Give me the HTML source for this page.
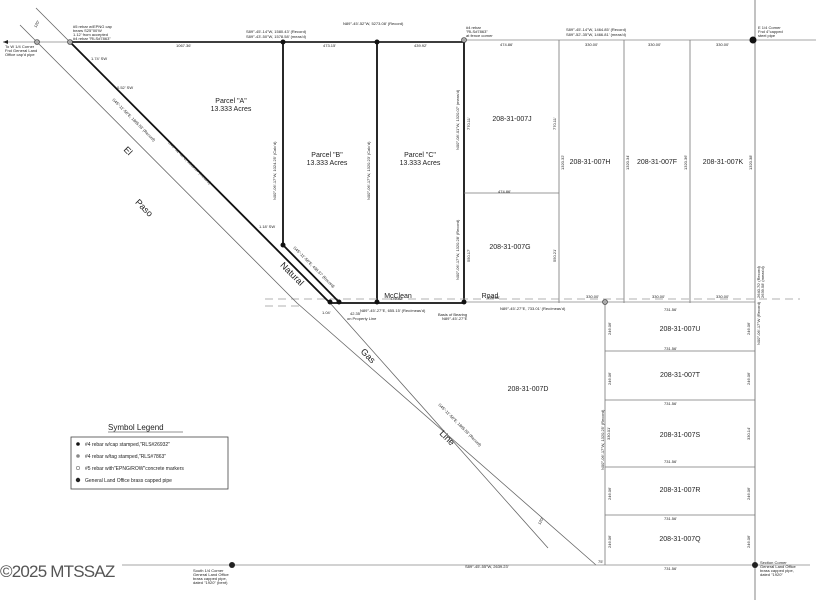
<!DOCTYPE html>
<html><head><meta charset="utf-8"><style>
html,body{margin:0;padding:0;background:#fff;}
svg{display:block;font-family:"Liberation Sans",sans-serif;}
.s{font-size:4px;fill:#222;}
.m{font-size:7px;fill:#222;}
.l{font-size:9px;fill:#222;}
</style></head><body>
<svg width="816" height="600" viewBox="0 0 816 600" xmlns="http://www.w3.org/2000/svg">
<rect width="816" height="600" fill="#fff"/>
<line x1="3" y1="42" x2="70" y2="42" stroke="#888" stroke-width="0.8"/>
<polygon points="3,42 8,40 8,44" fill="#222"/>
<line x1="70" y1="42" x2="464" y2="42" stroke="#222" stroke-width="1.8"/>
<line x1="464" y1="40" x2="816" y2="40" stroke="#888" stroke-width="0.8"/>
<line x1="283" y1="42" x2="283" y2="245" stroke="#111" stroke-width="1.8"/>
<line x1="377" y1="42" x2="377" y2="303" stroke="#111" stroke-width="1.8"/>
<line x1="464" y1="42" x2="464" y2="303" stroke="#111" stroke-width="1.8"/>
<line x1="559" y1="40" x2="559" y2="303" stroke="#777" stroke-width="0.8"/>
<line x1="624" y1="40" x2="624" y2="303" stroke="#777" stroke-width="0.8"/>
<line x1="690" y1="40" x2="690" y2="303" stroke="#777" stroke-width="0.8"/>
<line x1="755" y1="0" x2="755" y2="600" stroke="#666" stroke-width="0.8"/>
<line x1="464" y1="193" x2="559" y2="193" stroke="#777" stroke-width="0.8"/>
<line x1="265" y1="299" x2="800" y2="299" stroke="#999" stroke-width="0.8" stroke-dasharray="8,5"/>
<line x1="265" y1="306" x2="300" y2="306" stroke="#999" stroke-width="0.8" stroke-dasharray="8,5"/>
<line x1="330" y1="303" x2="464" y2="303" stroke="#111" stroke-width="1.8"/>
<line x1="464" y1="302" x2="755" y2="302" stroke="#888" stroke-width="0.8"/>
<polyline points="36,8 330,303 548,548" fill="none" stroke="#666" stroke-width="0.8"/>
<polyline points="20,25 297,303 596,565" fill="none" stroke="#666" stroke-width="0.8"/>
<line x1="70" y1="42" x2="330" y2="303" stroke="#111" stroke-width="1.8"/>
<line x1="283" y1="245" x2="339" y2="302" stroke="#111" stroke-width="1.8"/>
<line x1="605" y1="302" x2="605" y2="565" stroke="#777" stroke-width="0.8"/>
<g stroke="#777" stroke-width="0.8">
<line x1="605" y1="351" x2="755" y2="351"/>
<line x1="605" y1="400" x2="755" y2="400"/>
<line x1="605" y1="467" x2="755" y2="467"/>
<line x1="605" y1="515" x2="755" y2="515"/>
</g>
<line x1="122" y1="565" x2="810" y2="565" stroke="#888" stroke-width="0.8"/>
<g fill="#111">
<circle cx="283" cy="42" r="2.5"/><circle cx="377" cy="42" r="2.5"/><circle cx="753" cy="40" r="3.5"/>
<circle cx="283" cy="245" r="2.5"/><circle cx="330" cy="302" r="2.5"/><circle cx="339" cy="302" r="2.5"/>
<circle cx="377" cy="302" r="2.5"/><circle cx="464" cy="302" r="2.5"/>
</g>
<circle cx="70" cy="42" r="2.5" fill="#aaa" stroke="#333" stroke-width="0.6"/>
<circle cx="37" cy="42" r="2.5" fill="#aaa" stroke="#333" stroke-width="0.6"/>
<circle cx="464" cy="40" r="2.5" fill="#aaa" stroke="#333" stroke-width="0.6"/>
<circle cx="605" cy="302" r="2.5" fill="#aaa" stroke="#333" stroke-width="0.6"/>
<circle cx="232" cy="565" r="3" fill="#222"/><circle cx="755" cy="565" r="3" fill="#222"/>
<text class="s" x="73" y="28">#5 rebar w/EPNG cap</text>
<text class="s" x="73" y="32">bears S25°00'W</text>
<text class="s" x="73" y="36">1.12' from accepted</text>
<text class="s" x="73" y="40">#4 rebar "RLS#7863"</text>
<text class="s" x="5" y="48">To W 1/4 Corner</text>
<text class="s" x="5" y="52">Fnd General Land</text>
<text class="s" x="5" y="56">Office cap'd pipe</text>
<text class="s" x="176" y="47">1067.36'</text>
<text class="s" x="246" y="33">S89°-45'-14"W, 1580.43' (Record)</text>
<text class="s" x="246" y="38">S89°-43'-50"W, 1578.58' (meas'd)</text>
<text class="s" x="323" y="47">473.15'</text>
<text class="s" x="414" y="47">439.92'</text>
<text class="s" x="343" y="25">N89°-45'-52"W, 5273.08' (Record)</text>
<text class="s" x="466" y="29">#4 rebar</text>
<text class="s" x="466" y="33">"RLS#7863"</text>
<text class="s" x="466" y="37">at fence corner</text>
<text class="s" x="500" y="46">474.86'</text>
<text class="s" x="566" y="31">S89°-45'-14"W, 1464.85' (Record)</text>
<text class="s" x="566" y="36">S89°-52'-35"W, 1466.81' (meas'd)</text>
<text class="s" x="585" y="46">330.00'</text>
<text class="s" x="648" y="46">330.00'</text>
<text class="s" x="716" y="46">330.00'</text>
<text class="s" x="758" y="29">E 1/4 Corner</text>
<text class="s" x="758" y="33">Fnd 4"capped</text>
<text class="s" x="758" y="37">steel pipe</text>
<text class="s" x="498" y="193">474.86'</text>
<text class="s" x="390" y="300">439.92'</text>
<text class="s" x="487" y="299">474.86'</text>
<text class="s" x="586" y="298">330.00'</text>
<text class="s" x="652" y="298">330.00'</text>
<text class="s" x="716" y="298">330.00'</text>
<text class="s" x="360" y="312">N89°-45'-27"E, 655.15' (Rec/meas'd)</text>
<text class="s" x="500" y="310">N89°-45'-27"E, 733.01' (Rec/meas'd)</text>
<text class="s" x="438" y="316">Basis of Bearing</text>
<text class="s" x="442" y="320">N89°-45'-27"E</text>
<text class="s" x="322" y="314">1.04'</text>
<text class="s" x="350" y="315">42.35'</text>
<text class="s" x="347" y="320">on Property Line</text>
<text class="s" x="664" y="311">731.56'</text>
<text class="s" x="664" y="350">731.56'</text>
<text class="s" x="664" y="405">731.56'</text>
<text class="s" x="664" y="463">731.56'</text>
<text class="s" x="664" y="520">731.56'</text>
<text class="s" x="664" y="570">731.56'</text>
<text class="s" x="465" y="568">S89°-45'-55"W, 2639.23'</text>
<text class="s" x="598" y="563">75'</text>
<text class="s" x="193" y="572">South 1/4 Corner</text>
<text class="s" x="193" y="576">General Land Office</text>
<text class="s" x="193" y="580">brass capped pipe,</text>
<text class="s" x="193" y="584">dated "1920" (bent)</text>
<text class="s" x="760" y="564">Section Corner</text>
<text class="s" x="760" y="568">General Land Office</text>
<text class="s" x="760" y="572">brass capped pipe,</text>
<text class="s" x="760" y="576">dated "1920"</text>
<g class="s">
<text transform="translate(276,200) rotate(-90)">N00°-06'-17"W, 1024.25' (Calc'd)</text>
<text transform="translate(370,200) rotate(-90)">N00°-06'-17"W, 1320.23' (Calc'd)</text>
<text transform="translate(459,150) rotate(-90)">N00°-08'-01"W, 1320.07' (meas'd)</text>
<text transform="translate(459,280) rotate(-90)">N00°-06'-17"W, 1320.28' (Record)</text>
<text transform="translate(470,130) rotate(-90)">770.11'</text>
<text transform="translate(470,262) rotate(-90)">550.17'</text>
<text transform="translate(556,130) rotate(-90)">770.11'</text>
<text transform="translate(556,262) rotate(-90)">550.21'</text>
<text transform="translate(564,170) rotate(-90)">1320.32'</text>
<text transform="translate(629,170) rotate(-90)">1320.34'</text>
<text transform="translate(687,170) rotate(-90)">1320.36'</text>
<text transform="translate(752,170) rotate(-90)">1320.38'</text>
<text transform="translate(760,298) rotate(-90)">2640.70' (Record)</text>
<text transform="translate(764,298) rotate(-90)">2639.58' (meas'd)</text>
<text transform="translate(760,345) rotate(-90)">N00°-06'-17"W (Record)</text>
<text transform="translate(611,335) rotate(-90)">246.06'</text>
<text transform="translate(750,335) rotate(-90)">246.06'</text>
<text transform="translate(611,385) rotate(-90)">246.06'</text>
<text transform="translate(750,385) rotate(-90)">246.06'</text>
<text transform="translate(610,440) rotate(-90)">330.01'</text>
<text transform="translate(750,440) rotate(-90)">330.14'</text>
<text transform="translate(604,470) rotate(-90)">N00°-06'-17"W, 1320.25' (Record)</text>
<text transform="translate(611,500) rotate(-90)">246.06'</text>
<text transform="translate(750,500) rotate(-90)">246.06'</text>
<text transform="translate(611,548) rotate(-90)">246.06'</text>
<text transform="translate(750,548) rotate(-90)">246.06'</text>
<text transform="translate(112,100) rotate(45)">S45°-11'-56"E, 1865.53' (Record)</text>
<text transform="translate(168,143) rotate(45)">S45°-11'-30"E, 1863.54' (meas'd)</text>
<text transform="translate(293,248) rotate(45)">S45°-11'-56"E, 438.37' (Record)</text>
<text transform="translate(438,405) rotate(45)">S45°-11'-56"E, 1865.53' (Record)</text>
<text transform="translate(540,525) rotate(-60)">120'</text>
<text transform="translate(36,28) rotate(-60)">120'</text>
<text x="91" y="60">1.74' SW</text>
<text x="117" y="89">0.52' SW</text>
<text x="259" y="228">1.18' SW</text>
</g>
<text class="m" x="231" y="103" text-anchor="middle">Parcel "A"</text>
<text class="m" x="231" y="111" text-anchor="middle">13.333 Acres</text>
<text class="m" x="327" y="157" text-anchor="middle">Parcel "B"</text>
<text class="m" x="327" y="165" text-anchor="middle">13.333 Acres</text>
<text class="m" x="420" y="157" text-anchor="middle">Parcel "C"</text>
<text class="m" x="420" y="165" text-anchor="middle">13.333 Acres</text>
<g class="m" text-anchor="middle">
<text x="512" y="121">208-31-007J</text>
<text x="590" y="164">208-31-007H</text>
<text x="657" y="164">208-31-007F</text>
<text x="723" y="164">208-31-007K</text>
<text x="510" y="249">208-31-007G</text>
<text x="528" y="391">208-31-007D</text>
<text x="680" y="331">208-31-007U</text>
<text x="680" y="377">208-31-007T</text>
<text x="680" y="437">208-31-007S</text>
<text x="680" y="492">208-31-007R</text>
<text x="680" y="541">208-31-007Q</text>
<text x="398" y="298">McClean</text>
<text x="490" y="298">Road</text>
</g>
<g class="l" text-anchor="middle">
<text transform="translate(126,153) rotate(45)">El</text>
<text transform="translate(142,210) rotate(45)">Paso</text>
<text transform="translate(290,276) rotate(45)">Natural</text>
<text transform="translate(366,358) rotate(45)">Gas</text>
<text transform="translate(445,440) rotate(45)">Line</text>
</g>
<text x="108" y="430" style="font-size:8px" fill="#222">Symbol Legend</text>
<line x1="108" y1="432" x2="183" y2="432" stroke="#222" stroke-width="0.6"/>
<rect x="71" y="437" width="157" height="52" fill="none" stroke="#444" stroke-width="0.8"/>
<circle cx="78" cy="444" r="1.8" fill="#111"/>
<text class="s" x="85" y="446" style="font-size:5px">#4 rebar w/cap stamped,"RLS#26932"</text>
<circle cx="78" cy="456" r="1.8" fill="#888"/>
<text class="s" x="85" y="458" style="font-size:5px">#4 rebar w/tag stamped,"RLS#7863"</text>
<circle cx="78" cy="468" r="1.8" fill="none" stroke="#444" stroke-width="0.5"/>
<text class="s" x="85" y="470" style="font-size:5px">#5 rebar with"EPNG/ROW"concrete markers</text>
<circle cx="78" cy="480" r="2.2" fill="#222"/>
<text class="s" x="85" y="482" style="font-size:5px">General Land Office brass capped pipe</text>
<text x="0" y="577" style="font-size:17px;letter-spacing:-0.8px" fill="#555">©2025 MTSSAZ</text>
</svg>
</body></html>
